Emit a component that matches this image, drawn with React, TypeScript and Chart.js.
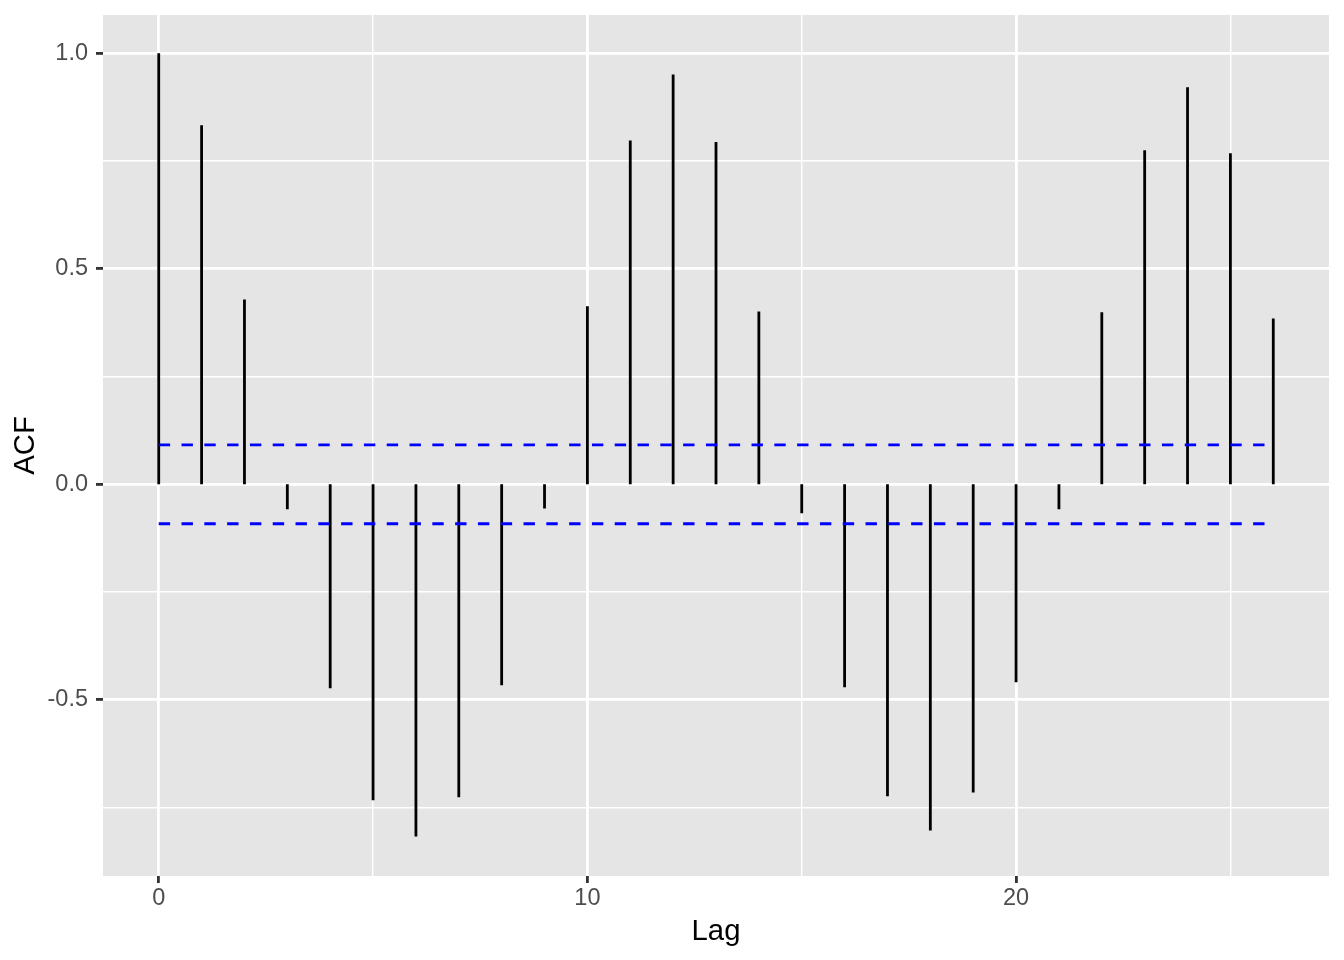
import React, { useEffect, useRef } from "react";
import { Chart, registerables } from "chart.js";

Chart.register(...registerables);

// ---- data ----
const lags = [0, 1, 2, 3, 4, 5, 6, 7, 8, 9, 10, 11, 12, 13, 14, 15, 16, 17, 18, 19, 20, 21, 22, 23, 24, 25, 26];
const acfValues = [
  1.0, 0.833, 0.429, -0.058, -0.473, -0.733, -0.817, -0.726, -0.466, -0.056,
  0.413, 0.798, 0.951, 0.794, 0.401, -0.067, -0.471, -0.724, -0.803, -0.715,
  -0.459, -0.058, 0.399, 0.775, 0.921, 0.768, 0.385,
];
const ciUpper = 0.0915;
const ciLower = -0.0915;
const xMajorTicks = [0, 10, 20];
const xMinorTicks = [5, 15, 25];
const yMajorTicks = [-0.5, 0, 0.5, 1.0];
const yMinorTicks = [-0.75, -0.25, 0.25, 0.75];

const FONT = "'Liberation Sans', Arial, Helvetica, sans-serif";
const PANEL = "#E5E5E5";

const isIn = (arr: number[], v: number) => arr.some((a) => Math.abs(a - v) < 1e-9);

const panelBg = {
  id: "panelBg",
  beforeDraw(chart: any) {
    const { ctx, chartArea: a } = chart;
    ctx.save();
    ctx.fillStyle = PANEL;
    ctx.fillRect(a.left, a.top, a.right - a.left, a.bottom - a.top);
    ctx.restore();
  },
};

export default function App() {
  const ref = useRef<HTMLCanvasElement | null>(null);

  useEffect(() => {
    if (!ref.current) return;

    const segData: any[] = [];
    lags.forEach((l, i) => {
      segData.push({ x: l, y: 0 });
      segData.push({ x: l, y: acfValues[i] });
      segData.push({ x: l, y: null });
    });
    const lagMin = lags[0];
    const lagMax = lags[lags.length - 1];

    const chart = new Chart(ref.current, {
      type: "line",
      data: {
        datasets: [
          {
            label: "upper",
            data: [
              { x: lagMin, y: ciUpper },
              { x: lagMax, y: ciUpper },
            ],
            borderColor: "#0000FF",
            borderWidth: 2.8,
            borderDash: [11.4, 11.4],
            borderCapStyle: "butt",
            pointRadius: 0,
            fill: false,
          },
          {
            label: "lower",
            data: [
              { x: lagMin, y: ciLower },
              { x: lagMax, y: ciLower },
            ],
            borderColor: "#0000FF",
            borderWidth: 2.8,
            borderDash: [11.4, 11.4],
            borderCapStyle: "butt",
            pointRadius: 0,
            fill: false,
          },
          {
            label: "acf",
            data: segData,
            borderColor: "#000000",
            borderWidth: 2.8,
            borderCapStyle: "butt",
            pointRadius: 0,
            spanGaps: false,
            fill: false,
          },
        ],
      },
      options: {
        animation: false,
        responsive: false,
        devicePixelRatio: 1,
        events: [],
        layout: { padding: { top: 15, right: 15, left: 0, bottom: 0 } },
        plugins: { legend: { display: false }, tooltip: { enabled: false } },
        scales: {
          x: {
            type: "linear",
            min: -1.3,
            max: 27.3,
            afterBuildTicks: (s: any) => {
              s.ticks = [...xMajorTicks, ...xMinorTicks].sort((a, b) => a - b).map((v) => ({ value: v }));
            },
            afterFit: (s: any) => {
              s.height = 84;
              s.paddingLeft = 0;
              s.paddingRight = 0;
            },
            ticks: {
              autoSkip: false,
              maxRotation: 0,
              color: "#4D4D4D",
              padding: 1,
              font: { family: FONT, size: 23.5 },
              callback: (v: any) => (isIn(xMajorTicks, Number(v)) ? String(v) : ""),
            },
            grid: {
              color: "#FFFFFF",
              lineWidth: (c: any) => (c.tick && isIn(xMajorTicks, c.tick.value) ? 2.8 : 1.4),
              drawTicks: true,
              tickLength: 7,
              tickColor: (c: any) => (c.tick && isIn(xMajorTicks, c.tick.value) ? "#333333" : "rgba(0,0,0,0)"),
              tickWidth: (c: any) => (c.tick && isIn(xMajorTicks, c.tick.value) ? 2.8 : 1.4),
            },
            border: { display: false },
            title: {
              display: true,
              text: "Lag",
              color: "#000000",
              font: { family: FONT, size: 29.3 },
              padding: { top: 0, bottom: 11 },
            },
          },
          y: {
            type: "linear",
            min: -0.9088,
            max: 1.0889,
            afterBuildTicks: (s: any) => {
              s.ticks = [...yMajorTicks, ...yMinorTicks].sort((a, b) => a - b).map((v) => ({ value: v }));
            },
            afterFit: (s: any) => {
              s.width = 103;
              s.paddingTop = 0;
              s.paddingBottom = 0;
            },
            ticks: {
              autoSkip: false,
              color: "#4D4D4D",
              padding: 8,
              font: { family: FONT, size: 23.5 },
              callback: (v: any) => (isIn(yMajorTicks, Number(v)) ? Number(v).toFixed(1) : ""),
            },
            grid: {
              color: "#FFFFFF",
              lineWidth: (c: any) => (c.tick && isIn(yMajorTicks, c.tick.value) ? 2.8 : 1.4),
              drawTicks: true,
              tickLength: 7,
              tickColor: (c: any) => (c.tick && isIn(yMajorTicks, c.tick.value) ? "#333333" : "rgba(0,0,0,0)"),
              tickWidth: (c: any) => (c.tick && isIn(yMajorTicks, c.tick.value) ? 2.8 : 1.4),
            },
            border: { display: false },
            title: {
              display: true,
              text: "ACF",
              color: "#000000",
              font: { family: FONT, size: 29.3 },
              padding: { top: 8, bottom: 0 },
            },
          },
        },
      } as any,
      plugins: [panelBg],
    });

    return () => chart.destroy();
  }, []);

  return (
    <div style={{ position: "absolute", left: 0, top: 0, width: 1344, height: 960, background: "#FFFFFF" }}>
      <canvas ref={ref} width={1344} height={960} style={{ display: "block", width: 1344, height: 960 }} />
    </div>
  );
}
